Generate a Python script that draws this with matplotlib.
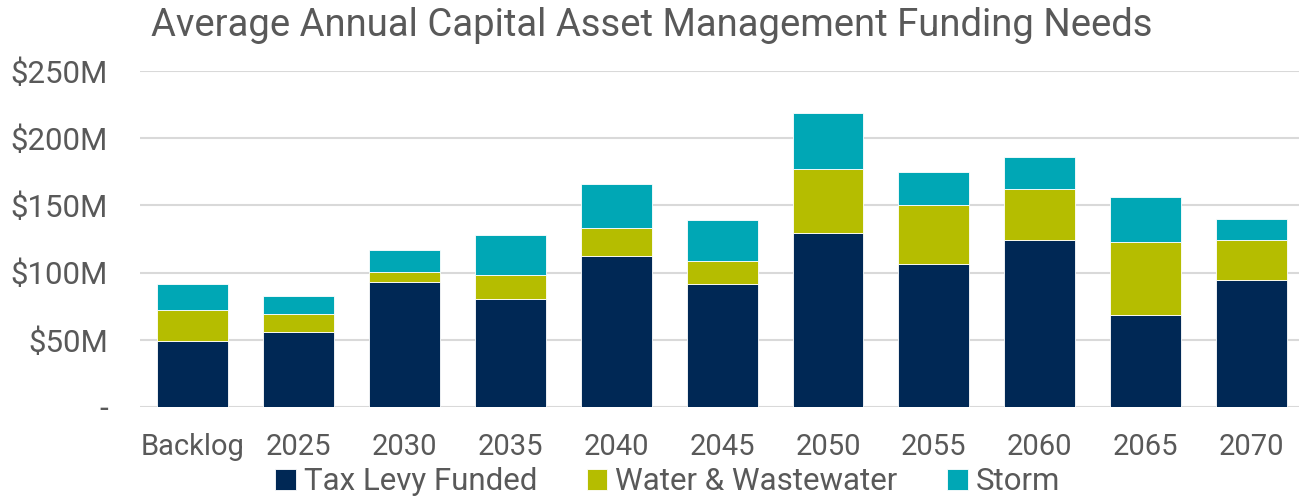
import matplotlib
matplotlib.use('Agg')
from matplotlib import pyplot as plt
import numpy as np

categories = ['Backlog', '2025', '2030', '2035', '2040', '2045', '2050', '2055', '2060', '2065', '2070']
tax_levy = [49, 56, 93, 80, 112, 91.5, 129.5, 106.5, 124, 68.5, 94.5]
water = [23, 13, 7.5, 18, 21, 17, 47.5, 44, 38, 54, 30]
storm = [19.5, 13.5, 16, 30, 33, 31, 42, 24, 24, 34, 15.5]
yticks = [0, 50, 100, 150, 200, 250]
ytick_labels = ['-', '$50M', '$100M', '$150M', '$200M', '$250M']

plt.rcParams['font.family'] = ['Roboto', 'DejaVu Sans']
grey = '#595959'
colors = ['#002855', '#B5BD00', '#00A7B5']

fig = plt.figure(figsize=(12.99, 5.0), dpi=100)
ax = fig.add_axes([140/1299, 1-407/500, 1-140/1299, 336/500])

x = np.arange(len(categories))
w = 0.67
b1 = ax.bar(x, tax_levy, w, color=colors[0], label='Tax Levy Funded', edgecolor='white', linewidth=0.6, zorder=3)
b2 = ax.bar(x, water, w, bottom=tax_levy, color=colors[1], label='Water & Wastewater', edgecolor='white', linewidth=0.6, zorder=3)
bot = np.array(tax_levy) + np.array(water)
b3 = ax.bar(x, storm, w, bottom=bot, color=colors[2], label='Storm', edgecolor='white', linewidth=0.6, zorder=3)

ax.set_ylim(0, 250)
ax.set_xlim(-0.5, 10.45)
ax.set_yticks(yticks)
ax.set_yticklabels(ytick_labels)
ax.set_xticks(x)
ax.set_xticklabels(categories)
ax.tick_params(axis='both', length=0, labelcolor=grey)
ax.tick_params(axis='y', pad=23, labelsize=22.5)
ax.tick_params(axis='x', pad=19, labelsize=21)
ax.yaxis.grid(True, color='#d9d9d9', linewidth=1.5, zorder=0)
for s in ax.spines.values():
    s.set_visible(False)

fig.text(0.502, 0.948, 'Average Annual Capital Asset Management Funding Needs', ha='center', va='center',
         fontsize=27.5, color=grey)

fig.legend(handles=[b1, b2, b3], loc='center', bbox_to_anchor=(0.514, 0.036), ncol=3, frameon=False,
           fontsize=22.5, labelcolor=grey, handlelength=0.65, handleheight=0.65, handletextpad=0.25,
           columnspacing=1.6, borderpad=0)

fig.savefig('out.png', dpi=100)
